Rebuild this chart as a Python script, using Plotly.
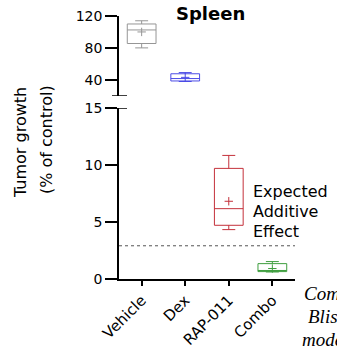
import plotly.graph_objects as go

categories = ["Vehicle", "Dex", "RAP-011", "Combo"]
q1 = [85.5, 38.5, 4.72, 0.65]
median = [102.5, 41.5, 6.18, 0.75]
q3 = [110.0, 47.5, 9.72, 1.35]
low = [80.0, 37.8, 4.34, 0.62]
high = [114.0, 49.0, 10.86, 1.53]
mean = [100.0, 43.0, 6.83, 0.92]
colors = ["#969696", "#4b4be6", "#c4313b", "#3e9e3e"]
panel = ["upper", "upper", "lower", "lower"]
expected_additive = 2.92

upper_ticks = [40, 80, 120]
lower_ticks = [0, 5, 10, 15]

W, H = 337, 357
L, R, T, B = 119, 42, 16, 78
pw, ph = W - L - R, H - T - B

def px(x):
    return (x - L) / pw

def py(y):
    return (H - B - y) / ph

fig = go.Figure()
for i, c in enumerate(categories):
    ya = "y2" if panel[i] == "upper" else "y"
    xa = "x2" if panel[i] == "upper" else "x"
    fig.add_trace(go.Box(
        x=[c], q1=[q1[i]], median=[median[i]], q3=[q3[i]],
        lowerfence=[low[i]], upperfence=[high[i]],
        xaxis=xa, yaxis=ya, width=0.66, whiskerwidth=0.45,
        line=dict(color=colors[i], width=1), fillcolor="rgba(0,0,0,0)",
        boxpoints=False, showlegend=False, hoverinfo="skip"))
    fig.add_trace(go.Scatter(
        x=[c], y=[mean[i]], xaxis=xa, yaxis=ya, mode="markers",
        marker=dict(symbol="cross-thin", size=6, line=dict(color=colors[i], width=1)),
        showlegend=False, hoverinfo="skip"))

lo_top = (H - B - 108.3) / ph
up_bot = (H - B - 95.7) / ph

axis_common = dict(showline=True, linecolor="black", linewidth=1.5, showgrid=False,
                   zeroline=False, ticks="outside", ticklen=12, tickwidth=1.5,
                   tickcolor="black", automargin=False,
                   tickfont=dict(family="DejaVu Sans", size=14, color="black"))

fig.update_layout(
    width=W, height=H, margin=dict(l=L, r=R, t=T, b=B, autoexpand=False),
    paper_bgcolor="white", plot_bgcolor="white", boxmode="overlay",
    xaxis=dict(type="category", categoryorder="array", categoryarray=categories,
               range=[-0.52, 3.52], anchor="y", showline=True, linecolor="black",
               linewidth=1.5, ticks="outside", ticklen=5, tickwidth=1.5, tickcolor="black",
               tickangle=-45, showgrid=False, automargin=False,
               tickfont=dict(family="DejaVu Sans", size=15, color="black")),
    xaxis2=dict(type="category", categoryorder="array", categoryarray=categories,
                matches="x", anchor="y2", visible=False),
    yaxis=dict(domain=[0, lo_top], range=[0, 15], tickvals=lower_ticks, anchor="x", **axis_common),
    yaxis2=dict(domain=[up_bot, 1], range=[20, 120], tickvals=upper_ticks, anchor="x2", **axis_common),
)

# axis break caps
fig.add_shape(type="line", xref="paper", yref="y", x0=px(112), x1=px(127), y0=15, y1=15,
              line=dict(color="black", width=1.5))
fig.add_shape(type="line", xref="paper", yref="y2", x0=px(112), x1=px(127), y0=20, y1=20,
              line=dict(color="black", width=1.5))
# expected additive effect line
fig.add_shape(type="line", xref="paper", yref="y", x0=0, x1=1, y0=expected_additive, y1=expected_additive,
              line=dict(color="#555555", width=1, dash="dot"))

ann_font = dict(family="DejaVu Sans", size=16, color="black")
fig.add_annotation(text="<b>Spleen</b>", x=px(210.5), y=py(13), xref="paper", yref="paper",
                   showarrow=False, xanchor="center", yanchor="middle",
                   font=dict(family="DejaVu Sans", size=18, color="black"))
fig.add_annotation(text="Tumor growth", x=px(20), y=py(143), xref="paper", yref="paper",
                   showarrow=False, textangle=-90, xanchor="center", yanchor="middle", font=ann_font)
fig.add_annotation(text="(% of control)", x=px(46), y=py(140), xref="paper", yref="paper",
                   showarrow=False, textangle=-90, xanchor="center", yanchor="middle", font=ann_font)
for t, yy in zip(["Expected", "Additive", "Effect"], [191, 211, 231]):
    fig.add_annotation(text=t, x=px(251), y=py(yy), xref="paper", yref="paper",
                       showarrow=False, xanchor="left", yanchor="middle", font=ann_font)
serif = dict(family="Liberation Serif", size=19, color="black")
for t, xx, yy in zip(["<i>Combination</i>", "<i>Bliss</i>", "<i>model</i>"], [302, 306, 300], [293, 316, 339]):
    fig.add_annotation(text=t, x=px(xx), y=py(yy), xref="paper", yref="paper",
                       showarrow=False, xanchor="left", yanchor="middle", font=serif)

fig.write_html("out.html", config={"displayModeBar": False},
               post_script="document.body.style.margin='0';document.body.style.overflow='hidden';")
